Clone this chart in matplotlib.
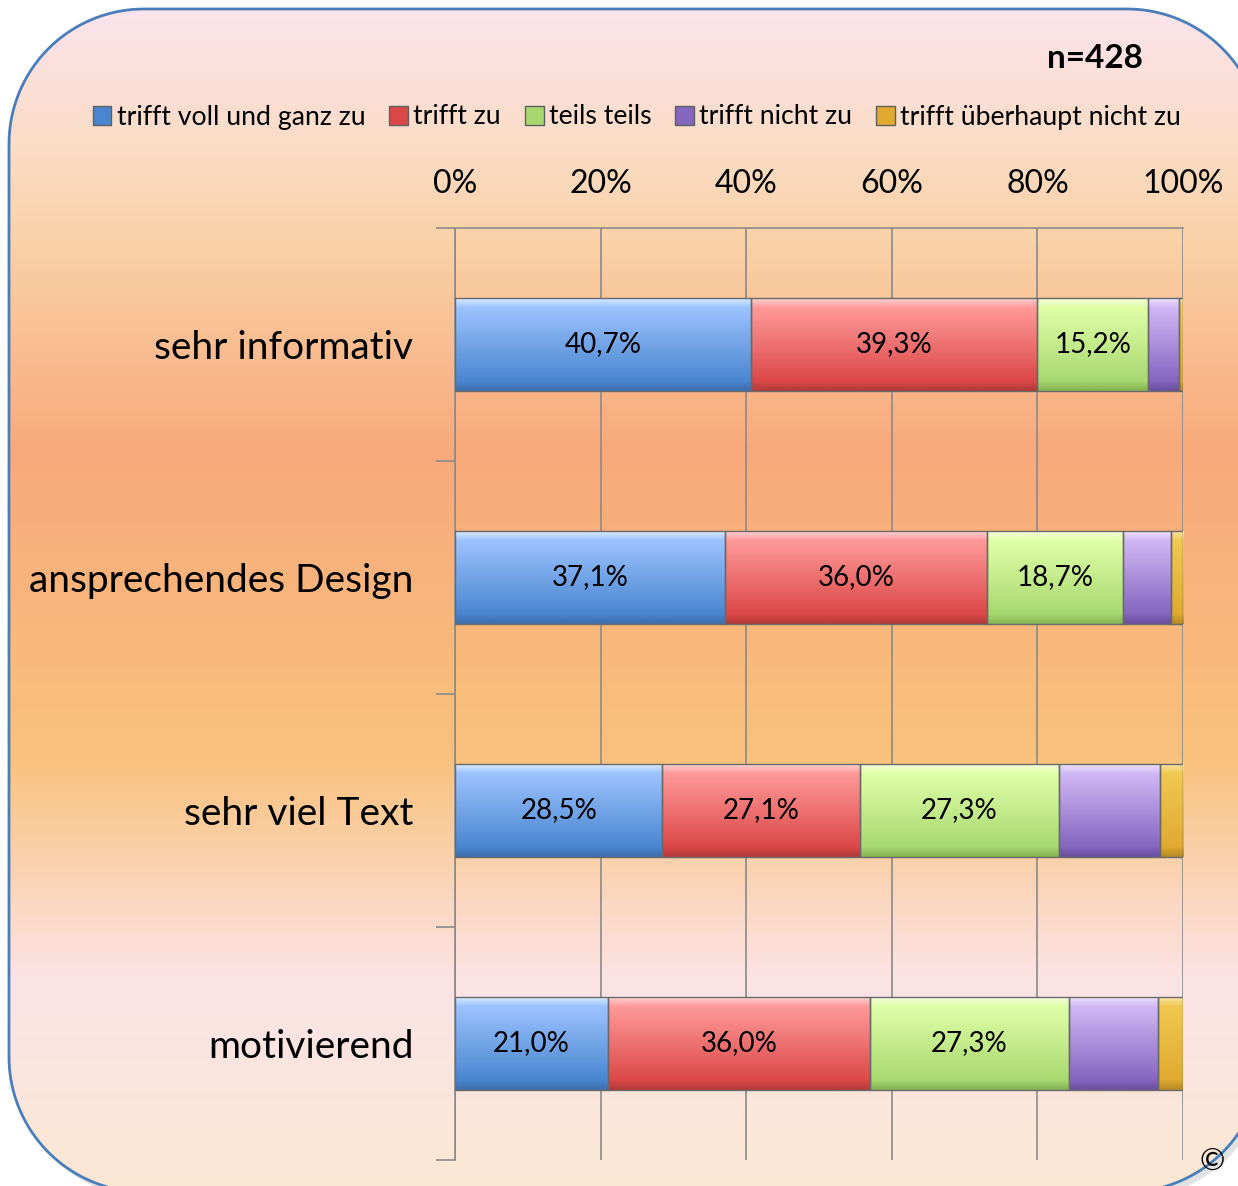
import numpy as np
import matplotlib.pyplot as plt
from matplotlib.patches import Polygon, Patch
from matplotlib.colors import LinearSegmentedColormap, to_rgb

plt.rcParams['font.family'] = ['Lato', 'DejaVu Sans']

categories = ['sehr informativ', 'ansprechendes Design', 'sehr viel Text', 'motivierend']
series = ['trifft voll und ganz zu', 'trifft zu', 'teils teils', 'trifft nicht zu',
          'trifft überhaupt nicht zu']
voll = [40.7, 37.1, 28.5, 21.0]
zu = [39.3, 36.0, 27.1, 36.0]
teils = [15.2, 18.7, 27.3, 27.3]
nicht = [4.3, 6.5, 13.9, 12.3]
ueberhaupt = [0.5, 1.7, 3.2, 3.4]
values = [voll, zu, teils, nicht, ueberhaupt]
labelled = [True, True, True, False, False]
xticks = [0, 20, 40, 60, 80, 100]
n_text = 'n=428'

# (highlight, top, bottom, edge) shades per series
shades = [('#DCEEFF', '#9CC3FF', '#4A86D0', '#3F6FAE'),
          ('#FFD6D6', '#FF9A9A', '#DC4848', '#B53A3A'),
          ('#F6FFE0', '#E0FFA8', '#A8D870', '#86B455'),
          ('#F0E6FF', '#D0B8F5', '#8466C0', '#6A50A0'),
          ('#FBE6A8', '#F0C850', '#E0AA30', '#B88A25')]


def rounded_rect(x0, y0, x1, y1, r, n=40):
    """Rounded rectangle as a plain polygon (y grows downwards)"""
    pts = []
    for cx, cy, a0 in [(x1 - r, y0 + r, -90), (x1 - r, y1 - r, 0),
                       (x0 + r, y1 - r, 90), (x0 + r, y0 + r, 180)]:
        a = np.radians(np.linspace(a0, a0 + 90, n))
        pts.append(np.column_stack([cx + r * np.cos(a), cy + r * np.sin(a)]))
    return np.vstack(pts)


W, H = 1238, 1186
fig = plt.figure(figsize=(W / 100, H / 100), dpi=100)
fig.patch.set_facecolor('white')

# rounded background with vertical gradient
bg = fig.add_axes([0, 0, 1, 1])
bg.set_xlim(0, W)
bg.set_ylim(H, 0)
bg.axis('off')
bg_cmap = LinearSegmentedColormap.from_list('bg', [
    (0.0, '#FCE4EE'), (0.12, '#FBDCC6'), (0.2, '#FAD2A8'), (0.38, '#F8A97B'),
    (0.64, '#F9C27C'), (0.83, '#FCE3E6'), (1.0, '#FBE8D4')])
shadow = Polygon(rounded_rect(14, 15, 1267, 1198, 135), closed=True,
                 facecolor='#CFCFCF', edgecolor='none', alpha=0.6, zorder=1)
bg.add_patch(shadow)
box = Polygon(rounded_rect(9, 9, 1262, 1192, 135), closed=True,
              facecolor='none', edgecolor='#4A7EBB', linewidth=2, zorder=3)
bg.add_patch(box)
grad = np.linspace(0, 1, 400).reshape(-1, 1)
im = bg.imshow(grad, cmap=bg_cmap, extent=[0, W, H, 0], aspect='auto', zorder=2)
im.set_clip_path(box)
bg.set_xlim(0, W)
bg.set_ylim(H, 0)
bg.text(1212, 1162, '©', fontsize=22, ha='center', va='center', zorder=4)

ax = fig.add_axes([455 / W, 1 - 1160 / H, (1183 - 455) / W, (1160 - 228) / H])
ax.patch.set_alpha(0)
y = np.arange(len(categories)) + 0.5
h = 0.4
left = np.zeros(len(categories))
for vals, (hi, top, bot, edge), lab in zip(values, shades, labelled):
    vals = np.array(vals)
    bars = ax.barh(y, vals, height=h, left=left, color=bot, edgecolor='none', zorder=3)
    cm = LinearSegmentedColormap.from_list('g', [(0, to_rgb(hi)), (0.1, to_rgb(top)),
                                                 (0.9, to_rgb(bot)), (1, to_rgb(edge))])
    for b in bars:
        x0, y0 = b.get_x(), b.get_y()
        gi = ax.imshow(np.linspace(0, 1, 60).reshape(-1, 1), cmap=cm, aspect='auto',
                       extent=[x0, x0 + b.get_width(), y0 + b.get_height(), y0],
                       zorder=3.5, interpolation='bilinear')
        gi.set_clip_path(b)
        ax.add_patch(plt.Rectangle((x0, y0), b.get_width(), b.get_height(),
                                   facecolor='none', edgecolor='#6A6A6A', lw=1, zorder=4))
    if lab:
        for yi, l, v in zip(y, left, vals):
            ax.text(l + v / 2, yi, f'{v:.1f}%'.replace('.', ','), ha='center',
                    va='center', fontsize=20, color='black', zorder=5)
    left = left + vals

ax.set_xlim(0, 100)
ax.set_ylim(len(categories), 0)
ax.set_xticks(xticks)
ax.set_xticklabels([f'{t}%' for t in xticks], fontsize=23)
ax.xaxis.tick_top()
ax.tick_params(axis='x', length=0, pad=21)
ax.grid(axis='x', color='#8A8A8A', linewidth=1.2, zorder=1)
ax.set_yticks(y)
ax.set_yticklabels(categories, fontsize=28)
ax.set_yticks(np.arange(len(categories) + 1), minor=True)
ax.tick_params(axis='y', which='major', length=0, pad=30)
ax.tick_params(axis='y', which='minor', length=14, color='#8A8A8A', width=1.2)
for s in ['right', 'bottom']:
    ax.spines[s].set_visible(False)
for s in ['top', 'left']:
    ax.spines[s].set_color('#8A8A8A')
    ax.spines[s].set_linewidth(1.2)

handles = [Patch(facecolor=c[2], edgecolor='#5F5F5F', label=s) for c, s in zip(shades, series)]
fig.legend(handles=handles, loc='center', bbox_to_anchor=(637 / W, 1 - 117 / H), ncol=5,
           frameon=False, fontsize=19.2, handlelength=0.7, handleheight=0.7,
           handletextpad=0.2, columnspacing=0.9)
fig.text(1143 / W, 1 - 58 / H, n_text, ha='right', va='center', fontsize=24,
         fontweight='bold')

fig.savefig('out.png', dpi=100)
